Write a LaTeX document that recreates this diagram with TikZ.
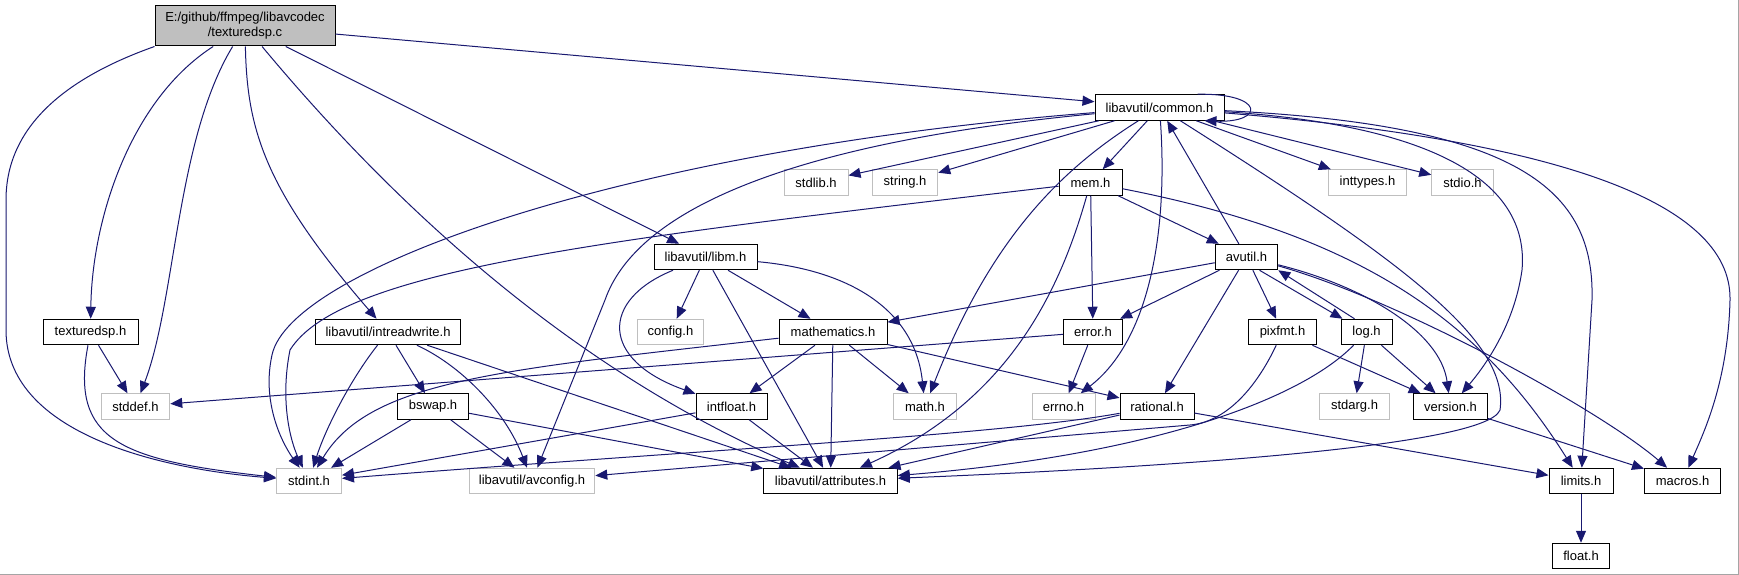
\documentclass[tikz,border=0pt]{standalone}
\usepackage{fontspec}
\setmainfont{Liberation Sans}
\usepackage{tikz}
\usetikzlibrary{arrows.meta}
\definecolor{edgeblue}{RGB}{25,25,112}
\definecolor{sysgray}{RGB}{191,191,191}
\definecolor{framegray}{RGB}{165,165,165}

\begin{document}
\begin{tikzpicture}[x=1pt,y=-1pt,>={Triangle[length=12pt,width=10pt]},
  hdr/.style={draw=black,line width=1pt,fill=white,minimum height=25.5pt,inner sep=0pt,font=\fontsize{13}{15}\selectfont},
  sys/.style={hdr,draw=sysgray},
  root/.style={hdr,fill=sysgray,minimum height=40pt,align=center},
  dep/.style={->,edgeblue,line width=1pt}]
\useasboundingbox (0,0) rectangle (1739,575);
\fill[white] (0,0) rectangle (1739,575);
\draw[framegray] (0,574.5) -- (1738.5,574.5) -- (1738.5,0);

\node[root,minimum width=180pt] (src) at (245,26) {E:/github/ffmpeg/libavcodec\\/texturedsp.c};
\node[hdr,minimum width=129pt] (common) at (1159.5,107.5) {libavutil/common.h};
\node[sys,minimum width=64pt] (stdlib) at (816,182.5) {stdlib.h};
\node[sys,minimum width=65.5pt] (string) at (905,182.5) {string.h};
\node[hdr,minimum width=63pt] (mem) at (1090.5,182.5) {mem.h};
\node[sys,minimum width=78.5pt] (inttypes) at (1367.5,182.5) {inttypes.h};
\node[sys,minimum width=61.5pt] (stdio) at (1462.5,182.5) {stdio.h};
\node[hdr,minimum width=103pt] (libm) at (705.5,257) {libavutil/libm.h};
\node[hdr,minimum width=62.5pt] (avutil) at (1246.5,257) {avutil.h};
\node[hdr,minimum width=95pt] (texh) at (90.5,332) {texturedsp.h};
\node[hdr,minimum width=145.5pt] (intrw) at (388,332) {libavutil/intreadwrite.h};
\node[sys,minimum width=66.5pt] (config) at (670.5,332) {config.h};
\node[hdr,minimum width=108pt] (mathem) at (833,332) {mathematics.h};
\node[hdr,minimum width=59pt] (error) at (1093,332) {error.h};
\node[hdr,minimum width=68pt] (pixfmt) at (1282.5,332) {pixfmt.h};
\node[hdr,minimum width=51pt] (log) at (1366.5,332) {log.h};
\node[sys,minimum width=68.5pt] (stddef) at (135.5,406.5) {stddef.h};
\node[hdr,minimum width=71pt] (bswap) at (433,406.5) {bswap.h};
\node[hdr,minimum width=71pt] (intfloat) at (731.5,406.5) {intfloat.h};
\node[sys,minimum width=63pt] (math) at (925,406.5) {math.h};
\node[sys,minimum width=63pt] (errno) at (1063.5,406.5) {errno.h};
\node[hdr,minimum width=74pt] (rational) at (1157,406.5) {rational.h};
\node[sys,minimum width=69.5pt] (stdarg) at (1354.5,406.5) {stdarg.h};
\node[hdr,minimum width=73.5pt] (version) at (1450.5,406.5) {version.h};
\node[sys,minimum width=65pt] (stdint) at (309,481) {stdint.h};
\node[sys,minimum width=125.5pt] (avconfig) at (532,481) {libavutil/avconfig.h};
\node[hdr,minimum width=133.5pt] (attrib) at (830.5,481) {libavutil/attributes.h};
\node[hdr,minimum width=64pt] (limits) at (1581,481) {limits.h};
\node[hdr,minimum width=76pt] (macros) at (1682.5,481) {macros.h};
\node[hdr,minimum width=57pt] (float) at (1581,556) {float.h};

\draw[dep] (src) -- (common);
\draw[dep] (src) -- (libm);
\draw[dep] (src) .. controls (440,260) and (620,390) .. (attrib);
\draw[dep] (src) .. controls (247,130) and (265,190) .. (intrw);
\draw[dep] (src) .. controls (176,140) and (176,300) .. (stddef);
\draw[dep] (src) .. controls (130,100) and (92,220) .. (texh);
\draw[dep] (src.south west) .. controls (60,80) and (6,130) .. (6,200) -- (6,330) .. controls (6,430) and (150,468) .. (stdint);
\draw[dep] (texh) -- (stddef);
\draw[dep] (texh) .. controls (70,440) and (120,460) .. (stdint);

\draw[dep] ([xshift=-27pt]common.north east) .. controls (1265,93) and (1265,123) .. ([xshift=-20pt]common.south east);
\draw[dep] (common) -- (stdlib);
\draw[dep] (common) -- (string);
\draw[dep] (common) -- (mem);
\draw[dep] (common) -- (inttypes);
\draw[dep] (common) -- (stdio);
\draw[dep] (common) .. controls (620,150) and (290,270) .. (272,355) .. controls (262,400) and (280,440) .. (stdint);
\draw[dep] (common) .. controls (820,140) and (640,200) .. (605,300) -- (avconfig);
\draw[dep] (common) .. controls (1060,170) and (990,240) .. (math);
\draw[dep] (common) .. controls (1168,230) and (1150,340) .. (errno);
\draw[dep] (common) .. controls (1400,260) and (1510,340) .. (1500,410) .. controls (1485,450) and (1100,470) .. (attrib);
\draw[dep] (common) .. controls (1430,125) and (1530,180) .. (1522,270) .. controls (1515,320) and (1490,360) .. (version);
\draw[dep] (common) .. controls (1520,125) and (1595,190) .. (1592,300) -- (limits);
\draw[dep] (common) .. controls (1550,140) and (1732,200) .. (1730,300) .. controls (1728,380) and (1705,430) .. (macros);

\draw[dep] (mem) .. controls (600,240) and (340,270) .. (290,350) .. controls (280,400) and (290,440) .. (stdint);
\draw[dep] (mem) .. controls (1060,290) and (1010,400) .. (attrib);
\draw[dep] (mem) -- (error);
\draw[dep] (mem) -- (avutil);
\draw[dep] (mem) .. controls (1360,235) and (1480,320) .. (limits);

\draw[dep] (libm) -- (config);
\draw[dep] (libm) -- (mathem);
\draw[dep] (libm) .. controls (850,270) and (915,310) .. (math);
\draw[dep] (libm) .. controls (600,300) and (600,360) .. (intfloat);
\draw[dep] (libm) -- (attrib);

\draw[dep] (avutil) -- (common);
\draw[dep] (avutil) -- (mathem);
\draw[dep] (avutil) -- (error);
\draw[dep] (avutil) -- (rational);
\draw[dep] (avutil) -- (pixfmt);
\draw[dep] ([xshift=13pt]avutil.south) -- ([xshift=2pt]log.north west);
\draw[dep] (avutil) .. controls (1360,285) and (1440,330) .. (version);
\draw[dep] (avutil) .. controls (1400,300) and (1600,410) .. (macros);

\draw[dep] (mathem) .. controls (500,370) and (370,380) .. (stdint);
\draw[dep] (mathem) -- (intfloat);
\draw[dep] (mathem) -- (attrib);
\draw[dep] (mathem) -- (math);
\draw[dep] (mathem) -- (rational);

\draw[dep] (intrw) .. controls (350,380) and (325,430) .. (stdint);
\draw[dep] (intrw) -- (bswap);
\draw[dep] (intrw) .. controls (460,365) and (505,410) .. (avconfig);
\draw[dep] (intrw) -- (attrib);

\draw[dep] (bswap) -- (stdint);
\draw[dep] (bswap) -- (avconfig);
\draw[dep] (bswap) -- (attrib);

\draw[dep] (intfloat) -- (stdint);
\draw[dep] (intfloat) -- (attrib);

\draw[dep] (error) -- (errno);
\draw[dep] (error) -- (stddef);

\draw[dep] (rational) .. controls (1000,435) and (700,450) .. (stdint);
\draw[dep] (rational) -- (attrib);
\draw[dep] (rational) -- (limits);

\draw[dep] (pixfmt) -- (version);
\draw[dep] (pixfmt) .. controls (1255,390) and (1225,422) .. (1190,425) -- (avconfig);

\draw[dep] ([xshift=-12pt]log.north) -- (avutil.south east);
\draw[dep] (log) -- (stdarg);
\draw[dep] (log) -- (version);
\draw[dep] (log) .. controls (1300,400) and (1150,455) .. (attrib);

\draw[dep] (version) -- (macros);
\draw[dep] (limits) -- (float);
\end{tikzpicture}
\end{document}
